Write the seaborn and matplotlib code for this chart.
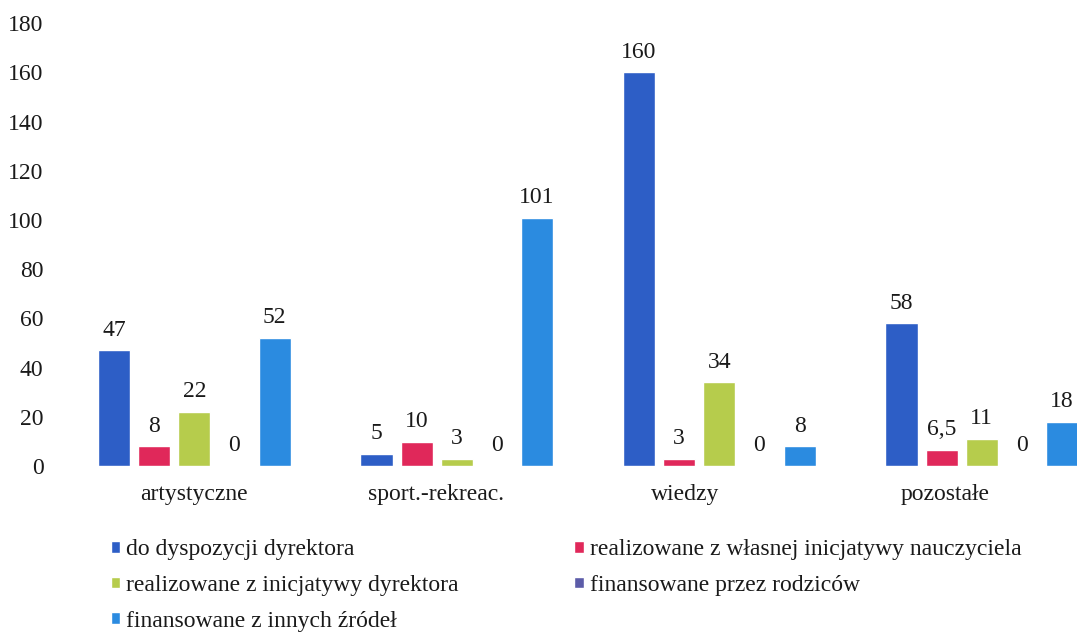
import numpy as np
import pandas as pd
import matplotlib.pyplot as plt
import seaborn as sns

# categories and series
categories = ['artystyczne', 'sport.-rekreac.', 'wiedzy', 'pozostałe']
series = ['do dyspozycji dyrektora',
          'realizowane z własnej inicjatywy nauczyciela',
          'realizowane z inicjatywy dyrektora',
          'finansowane przez rodziców',
          'finansowane z innych źródeł']
dyrektor = [47, 5, 160, 58]
nauczyciel = [8, 10, 3, 6.5]
inicjatywa_dyr = [22, 3, 34, 11]
rodzice = [0, 0, 0, 0]
inne = [52, 101, 8, 18]
colors = ['#2D5EC6', '#E0285A', '#B6CC4C', '#5C5CA8', '#2B8BE0']

values = [dyrektor, nauczyciel, inicjatywa_dyr, rodzice, inne]
data = pd.DataFrame({
    'kategoria': np.repeat([categories], len(series), axis=0).ravel(),
    'seria': np.repeat(series, len(categories)),
    'liczba': np.concatenate(values),
})

sns.set_style('white')
plt.rcParams['font.family'] = ['Liberation Serif', 'DejaVu Serif']

fig = plt.figure(figsize=(10.77, 6.43), dpi=100)
ax = fig.add_axes([0.0585, 0.275, 0.975, 0.689])

sns.barplot(data=data, x='kategoria', y='liczba', hue='seria', order=categories,
            hue_order=series, palette=colors, width=0.765, gap=0.2,
            saturation=1, ax=ax)

for cont in ax.containers:
    ax.bar_label(cont, labels=[f'{v:g}'.replace('.', ',') for v in cont.datavalues],
                 padding=7, fontsize=17, color='#1a1a1a')

ax.set_ylim(0, 180)
ax.set_xlim(-0.5, 3.5)
ax.set_yticks(range(0, 181, 20))
# category labels in the original sit a little left of their groups
tick_shift = [0, 0.08, 0.13, 0.14]
ax.set_xticks(np.arange(len(categories)) - np.array(tick_shift))
ax.set_xticklabels(categories)
ax.tick_params(axis='y', labelsize=17, pad=14, length=0, labelcolor='#1a1a1a')
ax.tick_params(axis='x', labelsize=17, pad=13, length=0, labelcolor='#1a1a1a')
ax.set_xlabel('')
ax.set_ylabel('')
sns.despine(ax=ax, left=True, bottom=True, top=True, right=True)

# legend is filled row by row in the original
handles, labels = ax.get_legend_handles_labels()
order = [0, 2, 4, 1, 3]
ax.legend([handles[i] for i in order], [labels[i] for i in order],
          loc='upper left', bbox_to_anchor=(0.094, 0.176),
          bbox_transform=fig.transFigure, ncol=2, frameon=False, fontsize=17,
          handlelength=0.4, handleheight=0.4, handletextpad=0.25,
          labelspacing=0.62, columnspacing=4.9, borderaxespad=0,
          labelcolor='#1a1a1a')

fig.savefig('out.png', dpi=100)
